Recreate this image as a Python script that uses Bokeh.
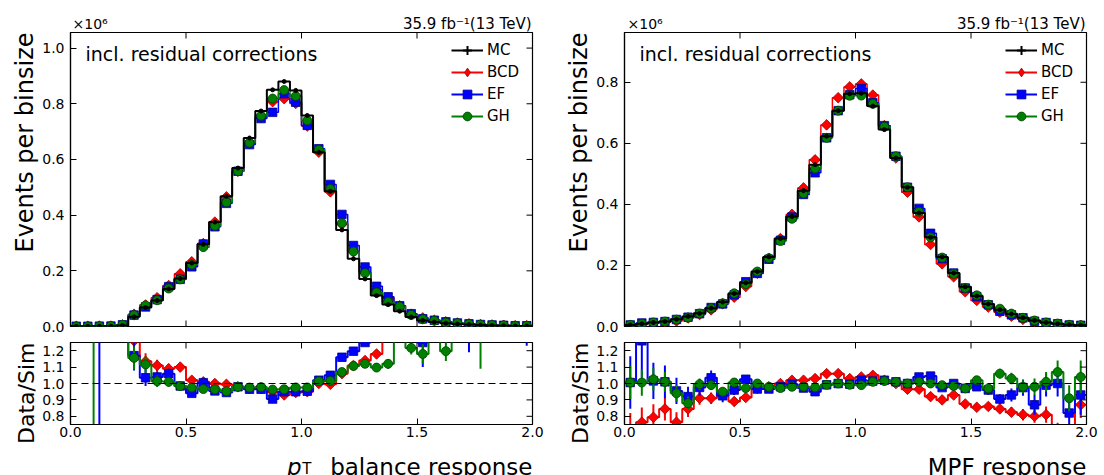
import numpy as np
from bokeh.plotting import figure
from bokeh.models import (Range1d, Label, Legend, LegendItem, Title,
                          FixedTicker, PrintfTickFormatter, Span)
from bokeh.layouts import row, column
from bokeh.embed import file_html
from bokeh.resources import INLINE

FONT = "DejaVu Sans"

# ---------------- data ----------------
bin_edges = np.round(np.linspace(0.0, 2.0, 41), 3)
bin_centers = 0.5 * (bin_edges[:-1] + bin_edges[1:])

series_names = ["BCD", "EF", "GH"]

# pT balance: simulation (events per binsize, x1e6)
mc_pt = [0.0005, 0.0005, 0.0008, 0.001, 0.004, 0.035, 0.068, 0.093, 0.135, 0.172,
         0.228, 0.295, 0.375, 0.468, 0.569, 0.677, 0.774, 0.85, 0.88, 0.848,
         0.758, 0.626, 0.486, 0.347, 0.243, 0.171, 0.111, 0.079, 0.055, 0.034,
         0.022, 0.016, 0.012, 0.009, 0.007, 0.005, 0.004, 0.003, 0.002, 0.002]
# pT balance: data/simulation ratios
ratio_pt_bcd = [1.5, 1.5, 1.5, 1.5, 1.5, 1.26, 1.135, 1.11, 1.09, 1.10,
                1.02, 1.01, 1.0, 0.995, 0.98, 0.97, 0.97, 0.95, 0.93, 0.945,
                0.95, 1.0, 0.995, 1.06, 1.11, 1.14, 1.18, 1.3, 1.35, 1.3,
                1.4, 1.4, 1.4, 1.4, 1.4, 1.4, 1.4, 1.4, 1.4, 1.4]
ratio_pt_ef = [1.5, 1.5, 1.5, 1.5, 1.5, 1.17, 1.035, 1.04, 1.06, 0.985,
               0.94, 1.005, 0.955, 0.945, 0.98, 0.965, 0.965, 0.905, 0.95, 0.95,
               0.953, 1.02, 1.05, 1.16, 1.197, 1.25, 1.3, 1.35, 1.35, 1.35,
               1.25, 1.4, 1.4, 1.4, 1.35, 1.4, 1.4, 1.4, 1.4, 1.35]
ratio_pt_gh = [0.5, 0.5, 1.5, 1.5, 1.5, 1.156, 1.116, 1.014, 1.01, 0.984,
               0.975, 0.966, 0.965, 0.953, 0.98, 0.975, 0.978, 0.963, 0.965, 0.976,
               0.976, 1.014, 1.016, 1.07, 1.107, 1.12, 1.097, 1.12, 1.3, 1.217,
               1.18, 1.3, 1.197, 1.3, 1.3, 1.3, 1.3, 1.3, 1.3, 1.3]
err_pt_bcd = [0.2, 0.2, 0.2, 0.2, 0.2, 0.08, 0.05, 0.035, 0.03, 0.025,
              0.018, 0.014, 0.012, 0.01, 0.01, 0.01, 0.01, 0.01, 0.01, 0.01,
              0.01, 0.01, 0.012, 0.014, 0.016, 0.02, 0.025, 0.03, 0.03, 0.03,
              0.03, 0.03, 0.03, 0.03, 0.03, 0.03, 0.03, 0.03, 0.03, 0.03]
err_pt_ef = [0.2, 0.2, 1.0, 0.2, 0.2, 0.09, 0.05, 0.035, 0.03, 0.025,
             0.018, 0.014, 0.012, 0.01, 0.01, 0.01, 0.01, 0.01, 0.01, 0.01,
             0.01, 0.01, 0.012, 0.014, 0.016, 0.02, 0.03, 0.03, 0.03, 0.03,
             0.15, 0.03, 0.03, 0.03, 0.16, 0.03, 0.03, 0.03, 0.03, 0.12]
err_pt_gh = [0.1, 0.1, 0.2, 0.2, 0.2, 0.07, 0.05, 0.035, 0.03, 0.025,
             0.018, 0.014, 0.012, 0.01, 0.01, 0.01, 0.01, 0.01, 0.01, 0.01,
             0.01, 0.01, 0.012, 0.014, 0.016, 0.02, 0.025, 0.03, 0.03, 0.04,
             0.06, 0.03, 0.06, 0.03, 0.03, 0.21, 0.03, 0.03, 0.03, 0.03]

# MPF: simulation (events per binsize, x1e6)
mc_mpf = [0.005, 0.009, 0.013, 0.016, 0.024, 0.033, 0.043, 0.06, 0.08, 0.108,
          0.143, 0.18, 0.228, 0.288, 0.36, 0.445, 0.53, 0.623, 0.707, 0.762,
          0.764, 0.722, 0.645, 0.552, 0.456, 0.372, 0.292, 0.228, 0.175, 0.13,
          0.1, 0.074, 0.055, 0.041, 0.029, 0.02, 0.013, 0.009, 0.006, 0.004]
ratio_mpf_bcd = [0.72, 0.764, 0.794, 0.845, 0.764, 0.845, 0.91, 0.91, 0.93, 0.89,
                 0.915, 0.97, 0.98, 1.0, 1.02, 1.02, 1.03, 1.06, 1.06, 1.03,
                 1.04, 1.05, 1.02, 1.0, 0.965, 0.965, 0.92, 0.9, 0.93, 0.875,
                 0.855, 0.86, 0.845, 0.825, 0.81, 0.8, 0.81, 0.7, 0.68, 0.87]
ratio_mpf_ef = [1.006, 1.26, 1.016, 1.01, 0.955, 0.92, 0.976, 1.035, 0.925, 0.96,
                1.026, 0.966, 0.966, 0.98, 0.996, 0.972, 0.95, 0.992, 1.0, 0.996,
                1.02, 1.015, 1.02, 1.01, 1.0, 1.04, 1.045, 0.975, 1.0, 0.97,
                0.98, 0.96, 0.905, 0.93, 0.975, 0.87, 0.99, 1.0, 0.82, 0.93]
ratio_mpf_gh = [1.006, 1.006, 1.026, 1.01, 0.94, 0.88, 0.996, 0.99, 0.95, 1.006,
                0.972, 1.0, 0.98, 0.972, 0.98, 0.98, 0.976, 0.992, 1.0, 0.992,
                0.99, 1.01, 1.015, 1.01, 1.0, 1.01, 1.0, 0.99, 0.985, 0.97,
                1.02, 0.97, 1.06, 1.03, 0.98, 0.98, 1.01, 1.07, 0.91, 1.04]
err_mpf_bcd = [0.1, 0.09, 0.08, 0.07, 0.06, 0.05, 0.04, 0.035, 0.03, 0.025,
               0.02, 0.015, 0.012, 0.01, 0.01, 0.01, 0.01, 0.01, 0.01, 0.01,
               0.01, 0.01, 0.01, 0.01, 0.01, 0.01, 0.012, 0.012, 0.015, 0.015,
               0.02, 0.02, 0.025, 0.03, 0.035, 0.04, 0.05, 0.06, 0.07, 0.08]
err_mpf_ef = [0.16, 0.22, 0.11, 0.1, 0.08, 0.06, 0.05, 0.045, 0.04, 0.03,
              0.025, 0.02, 0.015, 0.012, 0.01, 0.01, 0.01, 0.01, 0.01, 0.01,
              0.01, 0.01, 0.01, 0.01, 0.012, 0.012, 0.015, 0.015, 0.018, 0.02,
              0.025, 0.03, 0.03, 0.04, 0.05, 0.06, 0.07, 0.08, 0.1, 0.12]
err_mpf_gh = [0.1, 0.08, 0.07, 0.06, 0.05, 0.04, 0.035, 0.03, 0.025, 0.02,
              0.02, 0.015, 0.012, 0.01, 0.01, 0.01, 0.01, 0.01, 0.01, 0.01,
              0.01, 0.01, 0.01, 0.01, 0.01, 0.012, 0.012, 0.015, 0.015, 0.018,
              0.02, 0.025, 0.03, 0.035, 0.04, 0.05, 0.06, 0.07, 0.08, 0.1]

x_ticks = [0.0, 0.5, 1.0, 1.5, 2.0]
y_ticks_pt = [0.0, 0.2, 0.4, 0.6, 0.8, 1.0]
y_ticks_mpf = [0.0, 0.2, 0.4, 0.6, 0.8]
y_ticks_ratio = [0.8, 0.9, 1.0, 1.1, 1.2]

# ---------------- styles ----------------
STYLE = {
    "BCD": dict(color="#ff0000", edge="#a00000", marker="square", angle=np.pi / 4, size=7.5, leg="diamond"),
    "EF": dict(color="#0000ff", edge="#00008b", marker="square", angle=0.0, size=8.5, leg="square"),
    "GH": dict(color="#008000", edge="#004000", marker="circle", angle=0.0, size=9, leg="circle"),
}
NAN = [np.nan]
FRAME_W = 462
TICK = 12  # marker size of mirrored inward ticks (half is clipped by the frame)


def style_axis(ax, ticks, standoff):
    ax.ticker = FixedTicker(ticks=ticks, minor_ticks=[])
    ax.formatter = PrintfTickFormatter(format="%.1f")
    ax.major_tick_in = 6
    ax.major_tick_out = 0
    ax.minor_tick_in = 0
    ax.minor_tick_out = 0
    ax.major_tick_line_color = "black"
    ax.major_tick_line_width = 1
    ax.axis_line_color = "black"
    ax.axis_line_width = 1.2
    ax.axis_label = None
    ax.major_label_text_font = FONT
    ax.major_label_text_color = "black"
    ax.major_label_text_font_size = "14px"
    ax.major_label_standoff = standoff


def base_fig(fh, ml, mr, mt, mb, yr, yt, show_x):
    p = figure(frame_width=FRAME_W, frame_height=fh,
               min_border_left=ml, min_border_right=mr,
               min_border_top=mt, min_border_bottom=mb,
               x_range=Range1d(0.0, 2.0), y_range=Range1d(*yr),
               x_axis_location=("below" if show_x else None),
               output_backend="svg", toolbar_location=None, tools="")
    p.grid.visible = False
    p.outline_line_color = "black"
    p.outline_line_width = 1.2
    p.background_fill_color = "white"
    p.border_fill_color = "white"
    if show_x:
        style_axis(p.xaxis[0], x_ticks, 2)
    style_axis(p.yaxis[0], yt, 6)
    return p


def mirror_ticks(p, yr, yt, with_bottom):
    # inward ticks on the top (and bottom) edge and on the right edge
    xs = list(x_ticks)
    p.scatter(x=xs, y=[yr[1]] * len(xs), marker="dash", angle=np.pi / 2, size=TICK,
              line_color="black", line_width=1)
    if with_bottom:
        p.scatter(x=xs, y=[yr[0]] * len(xs), marker="dash", angle=np.pi / 2, size=TICK,
                  line_color="black", line_width=1)
    p.scatter(x=[2.0] * len(yt), y=list(yt), marker="dash", size=TICK,
              line_color="black", line_width=1)


def ytitle(p, text, size):
    t = Title(text=text, align="right", vertical_align="middle", offset=0, standoff=0,
              text_font=FONT, text_font_size=size, text_font_style="normal",
              text_color="black")
    p.add_layout(t, "left")


def step_y(vals):
    v = list(vals)
    return v + [v[-1]]


def make_top(mc, ratios, ymax, yt, ml, mr):
    yr = (0.0, ymax)
    p = base_fig(294, ml, mr, 0, 16, yr, yt, False)
    mc_arr = np.array(mc)
    for name in series_names:
        st = STYLE[name]
        vals = mc_arr * np.array(ratios[name])
        p.step(x=list(bin_edges), y=step_y(vals), mode="after",
               line_color=st["color"], line_width=1.5)
        p.scatter(x=bin_centers, y=vals, marker=st["marker"], angle=st["angle"],
                  size=st["size"], fill_color=st["color"], line_color=st["edge"],
                  line_width=0.8)
    p.step(x=list(bin_edges), y=step_y(mc_arr), mode="after",
           line_color="black", line_width=2)
    p.scatter(x=bin_centers, y=mc_arr, marker="circle", size=4,
              fill_color="black", line_color="black")
    mirror_ticks(p, yr, yt, True)

    # legend proxies (not drawn in the frame)
    items = []
    l_mc = p.line(x=NAN, y=NAN, line_color="black", line_width=2)
    c_mc = p.scatter(x=NAN, y=NAN, marker="cross", size=9, line_color="black", line_width=2)
    items.append(LegendItem(label="MC", renderers=[l_mc, c_mc]))
    for name in series_names:
        st = STYLE[name]
        l = p.line(x=NAN, y=NAN, line_color=st["color"], line_width=2)
        m = p.scatter(x=NAN, y=NAN, marker=st["leg"], size=9, fill_color=st["color"],
                      line_color=st["edge"], line_width=0.8)
        items.append(LegendItem(label=name, renderers=[l, m]))
    leg = Legend(items=items, location=(381, 199), orientation="vertical",
                 glyph_width=32, glyph_height=22, label_height=22, spacing=0,
                 padding=0, margin=0, label_standoff=4,
                 label_text_font=FONT, label_text_font_size="15px",
                 label_text_color="black", label_text_baseline="middle",
                 border_line_color=None, background_fill_alpha=0.0)
    p.add_layout(leg)

    p.add_layout(Label(x=0.0, y=ymax, x_offset=15, y_offset=-21,
                       text="incl. residual corrections", text_font=FONT,
                       text_font_size="19px", text_baseline="middle",
                       text_color="black"))
    ytitle(p, "Events per binsize", "24px")
    return p


def make_bottom(ratios, errs, ml, mr):
    yr = (0.75, 1.25)
    p = base_fig(82, ml, mr, 0, 19, yr, y_ticks_ratio, True)
    p.add_layout(Span(location=1.0, dimension="width", line_color="black",
                      line_width=1.2, line_dash="7 4"))
    for name in series_names:
        st = STYLE[name]
        r = np.array(ratios[name])
        e = np.array(errs[name])
        p.step(x=list(bin_edges), y=step_y(r), mode="after",
               line_color=st["color"], line_width=2)
        p.segment(x0=bin_centers, y0=r - e, x1=bin_centers, y1=r + e,
                  line_color=st["color"], line_width=2)
        p.scatter(x=bin_centers, y=r, marker=st["marker"], angle=st["angle"],
                  size=st["size"], fill_color=st["color"], line_color=st["edge"],
                  line_width=0.8)
    mirror_ticks(p, yr, y_ticks_ratio, False)
    ytitle(p, "Data/Sim", "22px")
    return p


def strip(h, ml, mr):
    # a text-only strip whose frame lines up with the plot frames above/below
    s = figure(frame_width=FRAME_W, frame_height=h,
               x_range=Range1d(0, FRAME_W), y_range=Range1d(0, h),
               min_border_left=ml, min_border_right=mr, min_border_top=0, min_border_bottom=0,
               x_axis_type=None, y_axis_type=None,
               output_backend="svg", toolbar_location=None, tools="")
    s.outline_line_color = None
    s.background_fill_color = "white"
    s.border_fill_color = "white"
    return s


def txt(s, x, y, text, size, align="left", style="normal"):
    s.add_layout(Label(x=x, y=y, text=text, text_font=FONT, text_font_size=size,
                       text_align=align, text_baseline="alphabetic",
                       text_font_style=style, text_color="black"))


# header strips (32 px tall)
hl = strip(32, 70, 18)
txt(hl, 2, 9, "×10⁶", "14px")
txt(hl, 461, 9, "35.9 fb⁻¹(13 TeV)", "15px", align="right")
hr = strip(32, 74, 18)
txt(hr, 3, 9, "×10⁶", "14px")
txt(hr, 461, 9, "35.9 fb⁻¹(13 TeV)", "15px", align="right")

tl = make_top(mc_pt, {"BCD": ratio_pt_bcd, "EF": ratio_pt_ef, "GH": ratio_pt_gh},
              1.056, y_ticks_pt, 70, 18)
tr = make_top(mc_mpf, {"BCD": ratio_mpf_bcd, "EF": ratio_mpf_ef, "GH": ratio_mpf_gh},
              0.963, y_ticks_mpf, 74, 18)
bl = make_bottom({"BCD": ratio_pt_bcd, "EF": ratio_pt_ef, "GH": ratio_pt_gh},
                 {"BCD": err_pt_bcd, "EF": err_pt_ef, "GH": err_pt_gh}, 70, 18)
br = make_bottom({"BCD": ratio_mpf_bcd, "EF": ratio_mpf_ef, "GH": ratio_mpf_gh},
                 {"BCD": err_mpf_bcd, "EF": err_mpf_ef, "GH": err_mpf_gh}, 74, 18)

# x-axis title strips (32 px tall)
fl = strip(32, 70, 18)
txt(fl, 462, 9, "balance response", "23px", align="right")
txt(fl, 241, 6.5, "T", "15px", align="right")
txt(fl, 231, 9, "p", "23px", align="right", style="italic")
fr = strip(32, 74, 18)
txt(fr, 462, 9, "MPF response", "23px", align="right")

layout = row(column(hl, tl, bl, fl), column(hr, tr, br, fr))
open("out.html", "w").write(file_html(layout, INLINE))
